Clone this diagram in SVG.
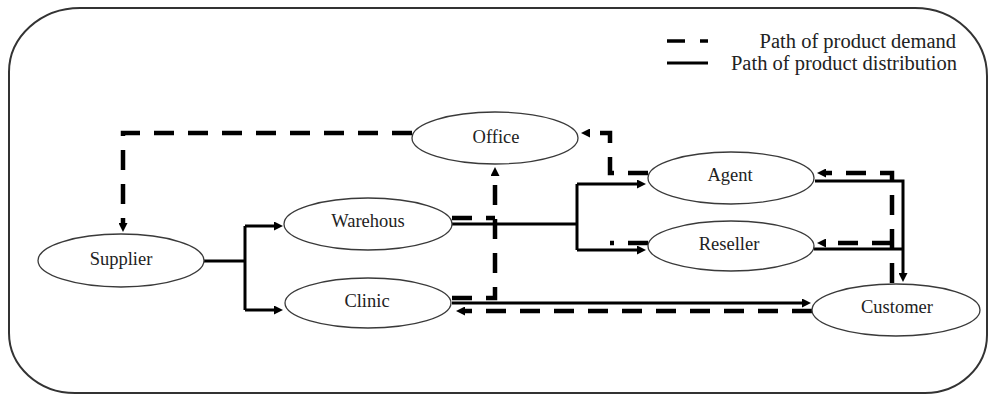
<svg xmlns="http://www.w3.org/2000/svg" width="988" height="394" viewBox="0 0 988 394">
  <style>
    .node ellipse { fill: #ffffff; stroke: #3a3a3a; stroke-width: 1.3; }
    .node text { font-family: "Liberation Serif", "Times New Roman", serif; font-size: 18.5px; fill: #222; text-anchor: middle; }
    .demand { fill: none; stroke: #000; stroke-width: 4.5; stroke-dasharray: 20 14; }
    .dist { fill: none; stroke: #000; stroke-width: 3; }
    .legend-text { font-family: "Liberation Serif", "Times New Roman", serif; font-size: 20.5px; fill: #222; text-anchor: end; }
  </style>
  <defs>
    <marker id="arrow" viewBox="0 0 10 10" refX="0" refY="5" markerWidth="10" markerHeight="9" markerUnits="userSpaceOnUse" orient="auto">
      <path d="M0,0 L10,5 L0,10 z" fill="#000"/>
    </marker>
  </defs>

  <rect width="988" height="394" fill="#ffffff"/>

  <!-- outer frame -->
  <path d="M 9 72 A 71 64 0 0 1 80 8 H 915 A 72 68 0 0 1 987 76 V 335 A 62 58 0 0 1 925 393 H 75 A 66 60 0 0 1 9 333 Z" fill="none" stroke="#333" stroke-width="2"/>

  <!-- legend -->
  <g id="legend">
    <line x1="667" y1="41" x2="685" y2="41" stroke="#000" stroke-width="3.5"/>
    <line x1="700" y1="41" x2="708" y2="41" stroke="#000" stroke-width="3.5"/>
    <line x1="667" y1="63" x2="708" y2="63" stroke="#000" stroke-width="3"/>
    <text class="legend-text" x="956" y="48">Path of product demand</text>
    <text class="legend-text" x="957" y="70">Path of product distribution</text>
  </g>

  <!-- connectors -->
  <g id="connectors">
    <!-- demand paths (dashed) -->
    <path class="demand" d="M 412 133 H 123 V 223" marker-end="url(#arrow)"/>
    <path class="demand" d="M 452 298 H 495 V 176" marker-end="url(#arrow)"/>
    <path class="demand" d="M 452 218 H 495"/>
    <path class="demand" d="M 812 311 H 465" marker-end="url(#arrow)"/>
    <path class="demand" d="M 892 283 V 173 H 826" marker-end="url(#arrow)"/>
    <path class="demand" d="M 892 243 H 826" marker-end="url(#arrow)"/>
    <path class="demand" d="M 648 173 H 610 V 133 H 590" marker-end="url(#arrow)"/>
    <path class="demand" d="M 648 243 H 610"/>

    <!-- distribution paths (solid) -->
    <path class="dist" d="M 204 261 H 245"/>
    <path class="dist" d="M 245 226 V 310"/>
    <path class="dist" d="M 245 226 H 274" marker-end="url(#arrow)"/>
    <path class="dist" d="M 245 310 H 274" marker-end="url(#arrow)"/>
    <path class="dist" d="M 452 224 H 577"/>
    <path class="dist" d="M 577 184 V 250"/>
    <path class="dist" d="M 577 184 H 637" marker-end="url(#arrow)"/>
    <path class="dist" d="M 577 250 H 637" marker-end="url(#arrow)"/>
    <path class="dist" d="M 452 303 H 802" marker-end="url(#arrow)"/>
    <path class="dist" d="M 815 181 H 903 V 273" marker-end="url(#arrow)"/>
    <path class="dist" d="M 814 249 H 903"/>
  </g>

  <!-- nodes -->
  <g id="supplier" class="node">
    <ellipse cx="121" cy="260.5" rx="83" ry="26.5"/>
    <text x="121" y="265">Supplier</text>
  </g>
  <g id="warehous" class="node">
    <ellipse cx="368" cy="224" rx="84" ry="26"/>
    <text x="368" y="227">Warehous</text>
  </g>
  <g id="clinic" class="node">
    <ellipse cx="368" cy="303" rx="83" ry="25"/>
    <text x="367" y="307">Clinic</text>
  </g>
  <g id="office" class="node">
    <ellipse cx="495" cy="138" rx="83" ry="26"/>
    <text x="496" y="143">Office</text>
  </g>
  <g id="agent" class="node">
    <ellipse cx="731" cy="178" rx="83" ry="26"/>
    <text x="730" y="181">Agent</text>
  </g>
  <g id="reseller" class="node">
    <ellipse cx="731" cy="246" rx="83" ry="25"/>
    <text x="729" y="250">Reseller</text>
  </g>
  <g id="customer" class="node">
    <ellipse cx="896" cy="310" rx="84" ry="26"/>
    <text x="897" y="313">Customer</text>
  </g>
</svg>
